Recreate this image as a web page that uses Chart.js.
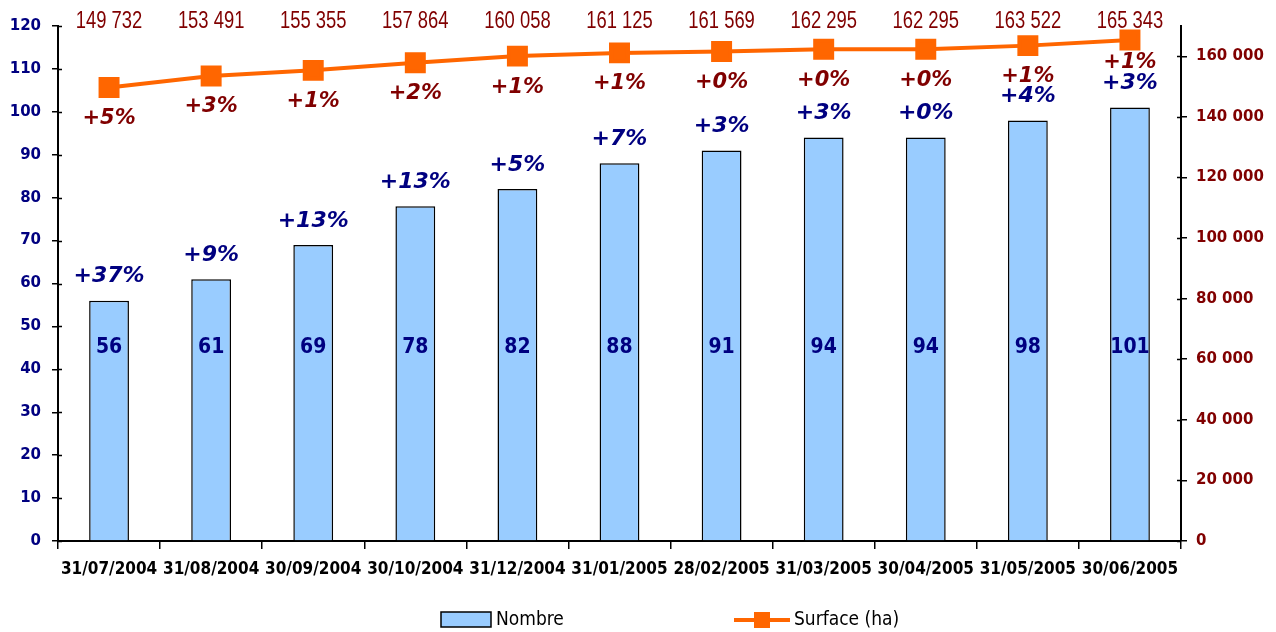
<!DOCTYPE html>
<html lang="fr">
<head>
    <meta charset="UTF-8">
    <title>Nombre et surface</title>
    <script src="https://cdn.jsdelivr.net/npm/chart.js"></script>
    <style>
        html, body { margin: 0; padding: 0; background: #ffffff; overflow: hidden; }
        canvas { display: block; }
    </style>
</head>
<body>

<canvas id="mainChart" width="1276" height="632"></canvas>

<script>
    // Données
    const dates = ["31/07/2004", "31/08/2004", "30/09/2004", "30/10/2004", "31/12/2004", "31/01/2005",
                   "28/02/2005", "31/03/2005", "30/04/2005", "31/05/2005", "30/06/2005"];
    const nombre = [56, 61, 69, 78, 82, 88, 91, 94, 94, 98, 101];
    const surface = [149732, 153491, 155355, 157864, 160058, 161125, 161569, 162295, 162295, 163522, 165343];
    const nombreVar = ["+37%", "+9%", "+13%", "+13%", "+5%", "+7%", "+3%", "+3%", "+0%", "+4%", "+3%"];
    const surfaceVar = ["+5%", "+3%", "+1%", "+2%", "+1%", "+1%", "+0%", "+0%", "+0%", "+1%", "+1%"];
    const surfaceTicks = [0, 20000, 40000, 60000, 80000, 100000, 120000, 140000, 160000];

    const navy = '#000080';
    const darkRed = '#800000';
    const orange = '#FF6600';
    const barBlue = '#99CCFF';
    const cond = '"DejaVu Sans Condensed", "DejaVu Sans", sans-serif';
    const dejavu = '"DejaVu Sans", sans-serif';
    const arial = '"Liberation Sans", Arial, sans-serif';

    const fmt = v => String(v).replace(/\B(?=(\d{3})+(?!\d))/g, ' ');

    // Étiquettes, petits traits intérieurs et légende
    const labelsPlugin = {
        id: 'labelsPlugin',
        afterDatasetsDraw(chart) {
            const ctx = chart.ctx;
            const yL = chart.scales.y;
            const area = chart.chartArea;
            const barMeta = chart.getDatasetMeta(0);
            const lineMeta = chart.getDatasetMeta(1);
            ctx.save();

            // traits de graduation qui traversent les axes
            ctx.strokeStyle = '#000';
            ctx.lineWidth = 1.5;
            ctx.beginPath();
            yL.ticks.forEach(t => {
                const p = Math.round(yL.getPixelForValue(t.value)) + 0.5;
                ctx.moveTo(area.left, p); ctx.lineTo(area.left + 4, p);
            });
            chart.scales.y1.ticks.forEach(t => {
                const p = Math.round(chart.scales.y1.getPixelForValue(t.value)) + 0.5;
                ctx.moveTo(area.right, p); ctx.lineTo(area.right - 4, p);
            });
            ctx.stroke();

            ctx.textAlign = 'center';
            ctx.textBaseline = 'middle';

            barMeta.data.forEach((bar, i) => {
                ctx.fillStyle = navy;
                ctx.font = 'bold oblique 22px ' + dejavu;
                ctx.fillText(nombreVar[i], bar.x, bar.y - 24);
                ctx.font = 'bold 21px ' + cond;
                ctx.fillText(String(nombre[i]), bar.x, yL.getPixelForValue(45));
            });

            lineMeta.data.forEach((pt, i) => {
                ctx.fillStyle = darkRed;
                ctx.save();
                ctx.translate(pt.x, 22);
                ctx.scale(0.8, 1);
                ctx.font = '23px ' + arial;
                ctx.fillText(fmt(surface[i]), 0, 0);
                ctx.restore();
                ctx.font = 'bold oblique 21px ' + dejavu;
                const off = i === lineMeta.data.length - 1 ? 22 : 31;
                ctx.fillText(surfaceVar[i], pt.x, pt.y + off);
            });

            // légende
            ctx.textAlign = 'left';
            ctx.font = '19px ' + cond;
            ctx.fillStyle = barBlue;
            ctx.fillRect(441, 612, 50, 15);
            ctx.strokeStyle = '#000';
            ctx.lineWidth = 1.5;
            ctx.strokeRect(441, 612, 50, 15);
            ctx.fillStyle = '#000';
            ctx.fillText('Nombre', 496, 620);

            ctx.strokeStyle = orange;
            ctx.lineWidth = 4;
            ctx.beginPath();
            ctx.moveTo(734, 620);
            ctx.lineTo(790, 620);
            ctx.stroke();
            ctx.fillStyle = orange;
            ctx.fillRect(754, 612, 16, 16);
            ctx.fillStyle = '#000';
            ctx.fillText('Surface (ha)', 794, 620);
            ctx.restore();
        }
    };

    const ctx = document.getElementById('mainChart').getContext('2d');
    const chart = new Chart(ctx, {
        data: {
            labels: dates,
            datasets: [{
                type: 'bar',
                label: 'Nombre',
                data: nombre,
                yAxisID: 'y',
                backgroundColor: barBlue,
                borderColor: '#000000',
                borderWidth: 1.5,
                barPercentage: 0.39,
                categoryPercentage: 1,
                order: 2
            }, {
                type: 'line',
                label: 'Surface (ha)',
                data: surface,
                yAxisID: 'y1',
                borderColor: orange,
                backgroundColor: orange,
                borderWidth: 4,
                pointStyle: 'rect',
                pointRadius: 12,
                pointHoverRadius: 12,
                tension: 0,
                order: 1
            }]
        },
        options: {
            responsive: false,
            animation: false,
            devicePixelRatio: 1,
            layout: { padding: { top: 26, left: 0, right: 0, bottom: 0 } },
            plugins: {
                legend: { display: false },
                tooltip: { enabled: false }
            },
            scales: {
                x: {
                    grid: { display: true, drawOnChartArea: false, offset: true, color: '#000', lineWidth: 1.5, tickLength: 8 },
                    border: { display: true, color: '#000', width: 2 },
                    ticks: {
                        color: '#000',
                        font: { family: cond, size: 17, weight: 'bold' },
                        maxRotation: 0,
                        autoSkip: false,
                        padding: 10
                    },
                    afterFit(scale) { scale.height = 91; }
                },
                y: {
                    position: 'left',
                    min: 0,
                    max: 120,
                    ticks: {
                        stepSize: 10,
                        color: navy,
                        font: { family: dejavu, size: 15, weight: 'bold' },
                        padding: 11
                    },
                    grid: { drawOnChartArea: false, color: '#000', lineWidth: 1.5, tickLength: 6 },
                    border: { display: true, color: '#000', width: 2 },
                    afterFit(scale) { scale.width = 58; }
                },
                y1: {
                    position: 'right',
                    min: 0,
                    max: 170000,
                    ticks: {
                        color: darkRed,
                        font: { family: dejavu, size: 15, weight: 'bold' },
                        padding: 9,
                        callback: v => fmt(v)
                    },
                    afterBuildTicks(scale) {
                        scale.ticks = surfaceTicks.map(v => ({ value: v }));
                    },
                    grid: { drawOnChartArea: false, color: '#000', lineWidth: 1.5, tickLength: 6 },
                    border: { display: true, color: '#000', width: 2 },
                    afterFit(scale) { scale.width = 95; }
                }
            }
        },
        plugins: [labelsPlugin]
    });
</script>

</body>
</html>
